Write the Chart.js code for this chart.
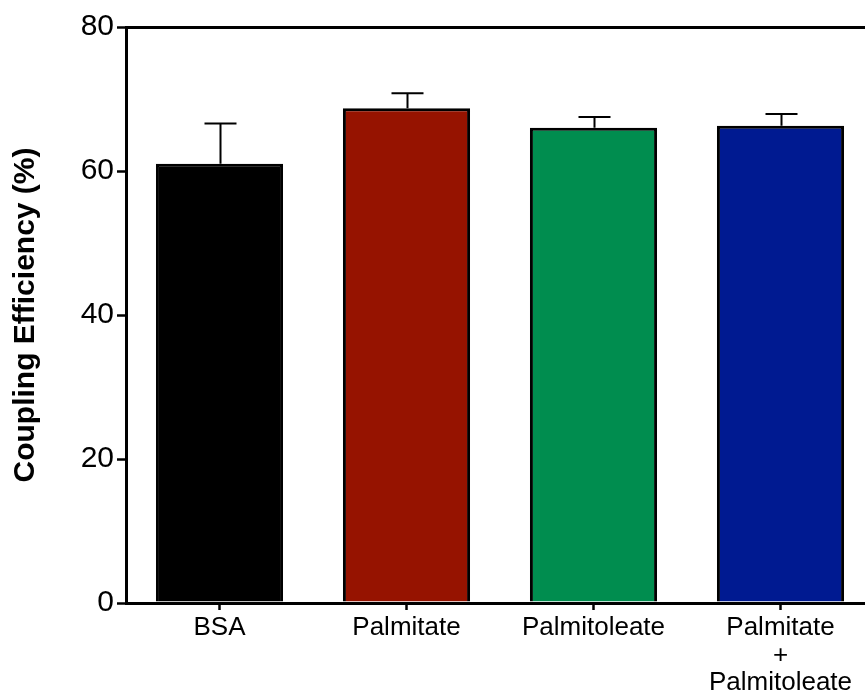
<!DOCTYPE html>
<html>
<head>
<meta charset="utf-8">
<script src="https://cdn.jsdelivr.net/npm/chart.js@4/dist/chart.umd.min.js"></script>
<style>
  html, body { margin: 0; padding: 0; background: #fff; overflow: hidden; }
  #wrap { width: 880px; height: 691px; }
</style>
</head>
<body>
<div id="wrap"><canvas id="c" width="880" height="691"></canvas></div>
<script>
// Coupling efficiency per fatty-acid treatment (mean and SEM, %)
const categories = ['BSA', 'Palmitate', 'Palmitoleate', ['Palmitate', '+', 'Palmitoleate']];
const means = [61.0, 68.7, 66.0, 66.3];
const sems = [5.6, 2.1, 1.5, 1.6];
const barColors = ['#000000', '#961300', '#008D4F', '#001A91'];
const yTicks = [0, 20, 40, 60, 80];

const FONT = '"Liberation Sans", Arial, Helvetica, sans-serif';

// Upper error whiskers with caps
const errorBars = {
  id: 'errorBars',
  afterDatasetsDraw(chart) {
    const { ctx, scales: { y } } = chart;
    const meta = chart.getDatasetMeta(0);
    ctx.save();
    ctx.strokeStyle = '#000';
    ctx.lineWidth = 2;
    meta.data.forEach((bar, i) => {
      const top = y.getPixelForValue(means[i] + sems[i]);
      const x = Math.round(bar.x) + 0.5;
      ctx.beginPath();
      ctx.moveTo(x, bar.y);
      ctx.lineTo(x, top);
      ctx.moveTo(x - 16, top);
      ctx.lineTo(x + 16, top);
      ctx.stroke();
    });
    ctx.restore();
  }
};

new Chart(document.getElementById('c'), {
  type: 'bar',
  data: {
    labels: categories,
    datasets: [{
      data: means,
      backgroundColor: barColors,
      borderColor: '#000',
      borderWidth: 3,
      categoryPercentage: 1,
      barPercentage: 0.68
    }]
  },
  options: {
    responsive: false,
    animation: false,
    devicePixelRatio: 1,
    layout: { padding: { top: 27, right: 6, left: 0, bottom: 0 } },
    plugins: { legend: { display: false }, tooltip: { enabled: false } },
    scales: {
      y: {
        min: 0,
        max: 80,
        afterBuildTicks(scale) { scale.ticks = yTicks.map(v => ({ value: v })); },
        afterFit(scale) { scale.width = 126; },
        border: { display: true, color: '#000', width: 3 },
        grid: {
          drawOnChartArea: true,
          color: ctx => (ctx.tick && ctx.tick.value === 80 ? '#000' : 'rgba(0,0,0,0)'),
          lineWidth: 3,
          tickColor: '#000',
          tickWidth: 2.5,
          tickLength: 9
        },
        ticks: {
          color: '#000',
          padding: 3,
          font: { family: FONT, size: 30 }
        },
        title: {
          display: true,
          text: 'Coupling Efficiency (%)',
          color: '#000',
          padding: { top: 8, bottom: 0 },
          font: { family: FONT, size: 30, weight: 'bold' }
        }
      },
      x: {
        afterFit(scale) { scale.height = 88; },
        border: { display: true, color: '#000', width: 3 },
        grid: {
          offset: false,
          drawOnChartArea: false,
          tickColor: '#000',
          tickWidth: 2.5,
          tickLength: 7
        },
        ticks: {
          color: '#000',
          padding: 4,
          maxRotation: 0,
          autoSkip: false,
          font: { family: FONT, size: 26, lineHeight: 1.06 }
        }
      }
    }
  },
  plugins: [errorBars]
});
</script>
</body>
</html>
